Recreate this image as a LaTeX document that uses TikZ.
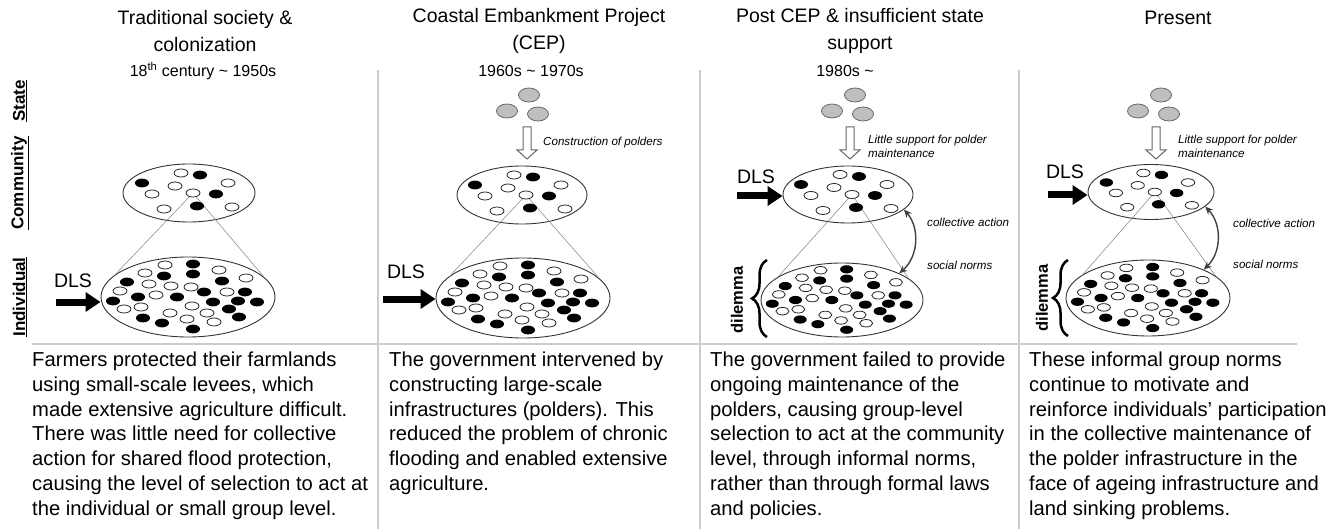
\documentclass[tikz,border=0pt]{standalone}
\usepackage{fontspec}
\setmainfont{Liberation Sans}
\usetikzlibrary{shapes.geometric,arrows.meta,decorations.pathreplacing,calc}

\tikzset{
  panelsep/.style={draw=black!20, line width=2pt},
  grp/.style={ellipse, draw=black!80, line width=0.9pt, inner sep=0pt},
  wdot/.style={draw=black!85, fill=white, line width=0.8pt},
  bdot/.style={fill=black},
  statedot/.style={ellipse, draw=black!60, fill=black!25, line width=0.8pt,
    minimum width=21pt, minimum height=14pt, inner sep=0pt},
  hollow/.style={draw=black!60, fill=white, line width=1pt},
  zoomline/.style={draw=black!50, line width=0.5pt},
  dlsarrow/.style={line width=7pt, -{Triangle[length=15pt,width=19pt]}},
  mutual/.style={draw=black!75, line width=1.4pt,
    {Stealth[length=8pt,width=7pt]}-{Stealth[length=8pt,width=7pt]}},
  brace/.style={decorate, decoration={brace, amplitude=15pt}, line width=2.5pt},
  level/.style={rotate=90, inner sep=0pt, font=\fontsize{17}{19}\selectfont\bfseries},
  title/.style={align=center, inner sep=0pt, font=\fontsize{19.5}{27}\selectfont},
  period/.style={inner sep=0pt, font=\fontsize{16}{19}\selectfont},
  note/.style={align=left, anchor=north west, inner sep=0pt, font=\fontsize{20.2}{24.7}\selectfont},
  remark/.style={align=left, anchor=west, inner sep=0pt, font=\fontsize{11.6}{14}\selectfont\itshape},
  dlslabel/.style={inner sep=0pt, font=\fontsize{19.5}{22}\selectfont},
}

\newcommand{\commdots}{%
  \foreach \dx/\dy in {-8/-20,-14/-7,39/-10,-37/1,4/0,-25/16,43/14}
    \draw[wdot] (\dx,\dy) ellipse [x radius=7pt, y radius=4pt];
  \foreach \dx/\dy in {11/-18,-47/-10,27/1,8/13}
    \fill[bdot] (\dx,\dy) ellipse [x radius=7pt, y radius=4.4pt];
}
\newcommand{\indivdots}{%
  \foreach \dx/\dy in {-23/-32,31/-27,-43/-24,58/-19,-39/-13,-17/-11,3/-10,-68/-6,
      39/-5,-32/-2,4/9,-64/12,-47/10,-18/16,19/16,-1/22,26/25}
    \draw[wdot] (\dx,\dy) ellipse [x radius=7pt, y radius=4pt];
  \foreach \dx/\dy in {5/-33,-24/-21,5/-23,-61/-15,34/-16,16/-5,57/-5,-50/0,-11/0,
      -75/4,25/5,50/4,69/5,41/12,-45/21,-26/26,51/20,5/32}
    \fill[bdot] (\dx,\dy) ellipse [x radius=7pt, y radius=4.4pt];
}

\begin{document}
\begin{tikzpicture}[x=1pt, y=-1pt]
  \useasboundingbox (0,0) rectangle (1340,529);

  \draw[panelsep] (378,70) -- (378,529);
  \draw[panelsep] (700,70) -- (700,529);
  \draw[panelsep] (1019,70) -- (1019,529);
  \draw[panelsep] (32,344) -- (1297,344);

  \node[level] (lstate) at (20,101) {\underline{State}};
  \node[level] (lcomm)  at (20,183) {\underline{Community}};
  \node[level] (lind)   at (20,297) {\underline{Individual}};

  \node[title] (h1) at (205,31) {Traditional society \&\\colonization};
  \node[title] (h2) at (539,31) {Coastal Embankment Project\\(CEP)};
  \node[title] (h3) at (860,31) {Post CEP \& insufficient state\\support};
  \node[title] (h4) at (1178,18) {Present};
  \node[period] (p1) at (203,71) {18\textsuperscript{th} century \textasciitilde{} 1950s};
  \node[period] (p2) at (531,71) {1960s \textasciitilde{} 1970s};
  \node[period] (p3) at (845,71) {1980s \textasciitilde};

  % panel 1
  \node[grp, minimum width=132pt, minimum height=58pt] (c1) at (189,193) {};
  \node[grp, minimum width=174pt, minimum height=80pt] (i1) at (188,297) {};
  \coordinate (c1m) at ($(c1)+(4,0)$);
  \draw[zoomline] (c1m) -- (i1.163);
  \draw[zoomline] (c1m) -- (i1.15);
  \begin{scope}[shift={(c1)}] \commdots \end{scope}
  \begin{scope}[shift={(i1)}] \indivdots \end{scope}
  \node[dlslabel] (d1) at (73,281) {DLS};
  \coordinate (d1s) at (56,302);
  \draw[dlsarrow] (d1s) -- (d1s -| i1.west);

  % panel 2
  \node[statedot] (s2a) at (529,95) {};
  \node[statedot] (s2b) at (507,111) {};
  \node[statedot] (s2c) at (538,114) {};
  \coordinate (a2) at (527,127);
  \draw[hollow] (a2) ++(-4,0) -- ++(8,0) -- ++(0,23) -- ++(6,0) -- ++(-10,9) -- ++(-10,-9) -- ++(6,0) -- cycle;
  \node[remark] (r2) at (543,143) {Construction of polders};
  \node[grp, minimum width=130pt, minimum height=58pt] (c2) at (522,195) {};
  \node[grp, minimum width=174pt, minimum height=80pt] (i2) at (523,298) {};
  \coordinate (c2m) at ($(c2)+(4,0)$);
  \draw[zoomline] (c2m) -- (i2.163);
  \draw[zoomline] (c2m) -- (i2.15);
  \begin{scope}[shift={(c2)}] \commdots \end{scope}
  \begin{scope}[shift={(i2)}] \indivdots \end{scope}
  \node[dlslabel] (d2) at (406,272) {DLS};
  \coordinate (d2s) at (383,299);
  \draw[dlsarrow] (d2s) -- (d2s -| i2.west);

  % panel 3
  \node[statedot] (s3a) at (855,95) {};
  \node[statedot] (s3b) at (832,111) {};
  \node[statedot] (s3c) at (863,114) {};
  \coordinate (a3) at (850,127);
  \draw[hollow] (a3) ++(-4,0) -- ++(8,0) -- ++(0,23) -- ++(6,0) -- ++(-10,9) -- ++(-10,-9) -- ++(6,0) -- cycle;
  \node[remark] (r3) at (868,146) {Little support for polder\\maintenance};
  \node[grp, minimum width=130pt, minimum height=57pt] (c3) at (848,194.5) {};
  \node[grp, minimum width=162pt, minimum height=74pt] (i3) at (842,300) {};
  \coordinate (c3m) at ($(c3)+(4,0)$);
  \draw[zoomline] (c3m) -- (i3.160);
  \draw[zoomline] (c3m) -- (i3.18);
  \begin{scope}[shift={(c3)}] \commdots \end{scope}
  \begin{scope}[shift={(i3)}, scale=0.93] \indivdots \end{scope}
  \node[dlslabel] (d3) at (756,177) {DLS};
  \coordinate (d3s) at (737,196);
  \draw[dlsarrow] (d3s) -- (d3s -| c3.west);
  \draw[mutual] (c3.-15) to[bend left=45] (i3.25);
  \node[remark] (m3a) at (927,222) {collective action};
  \node[remark] (m3b) at (927,265) {social norms};
  \coordinate (b3a) at (767,337);
  \coordinate (b3b) at (767,260);
  \draw[brace] (b3a) -- (b3b);
  \node[level, font=\fontsize{16.5}{18}\selectfont\bfseries] (dl3) at (737,300) {dilemma};

  % panel 4
  \node[statedot] (s4a) at (1161,95) {};
  \node[statedot] (s4b) at (1138,111) {};
  \node[statedot] (s4c) at (1169,114) {};
  \coordinate (a4) at (1156,127);
  \draw[hollow] (a4) ++(-4,0) -- ++(8,0) -- ++(0,23) -- ++(6,0) -- ++(-10,9) -- ++(-10,-9) -- ++(6,0) -- cycle;
  \node[remark] (r4) at (1178,146) {Little support for polder\\maintenance};
  \node[grp, minimum width=126pt, minimum height=55pt] (c4) at (1151,192) {};
  \node[grp, minimum width=164pt, minimum height=76pt] (i4) at (1148,298) {};
  \coordinate (c4m) at ($(c4)+(4,0)$);
  \draw[zoomline] (c4m) -- (i4.160);
  \draw[zoomline] (c4m) -- (i4.18);
  \begin{scope}[shift={(c4)}, scale=0.95] \commdots \end{scope}
  \begin{scope}[shift={(i4)}, scale=0.94] \indivdots \end{scope}
  \node[dlslabel] (d4) at (1065,172) {DLS};
  \coordinate (d4s) at (1048,195);
  \draw[dlsarrow] (d4s) -- (d4s -| c4.west);
  \draw[mutual] (c4.-15) to[bend left=45] (i4.27);
  \node[remark] (m4a) at (1233,223) {collective action};
  \node[remark] (m4b) at (1233,264) {social norms};
  \coordinate (b4a) at (1068,336);
  \coordinate (b4b) at (1068,260);
  \draw[brace] (b4a) -- (b4b);
  \node[level, font=\fontsize{16.5}{18}\selectfont\bfseries] (dl4) at (1042,298) {dilemma};

  % texts
  \node[note] (t1) at (32,352) {Farmers protected their farmlands\\using small-scale levees, which\\made extensive agriculture difficult.\\There was little need for collective\\action for shared flood protection,\\causing the level of selection to act at\\the individual or small group level.};
  \node[note] (t2) at (389,352) {The government intervened by\\constructing large-scale\\infrastructures (polders). This\\reduced the problem of chronic\\flooding and enabled extensive\\agriculture.};
  \node[note] (t3) at (710,352) {The government failed to provide\\ongoing maintenance of the\\polders, causing group-level\\selection to act at the community\\level, through informal norms,\\rather than through formal laws\\and policies.};
  \node[note] (t4) at (1029,352) {These informal group norms\\continue to motivate and\\reinforce individuals' participation\\in the collective maintenance of\\the polder infrastructure in the\\face of ageing infrastructure and\\land sinking problems.};
\end{tikzpicture}
\end{document}
